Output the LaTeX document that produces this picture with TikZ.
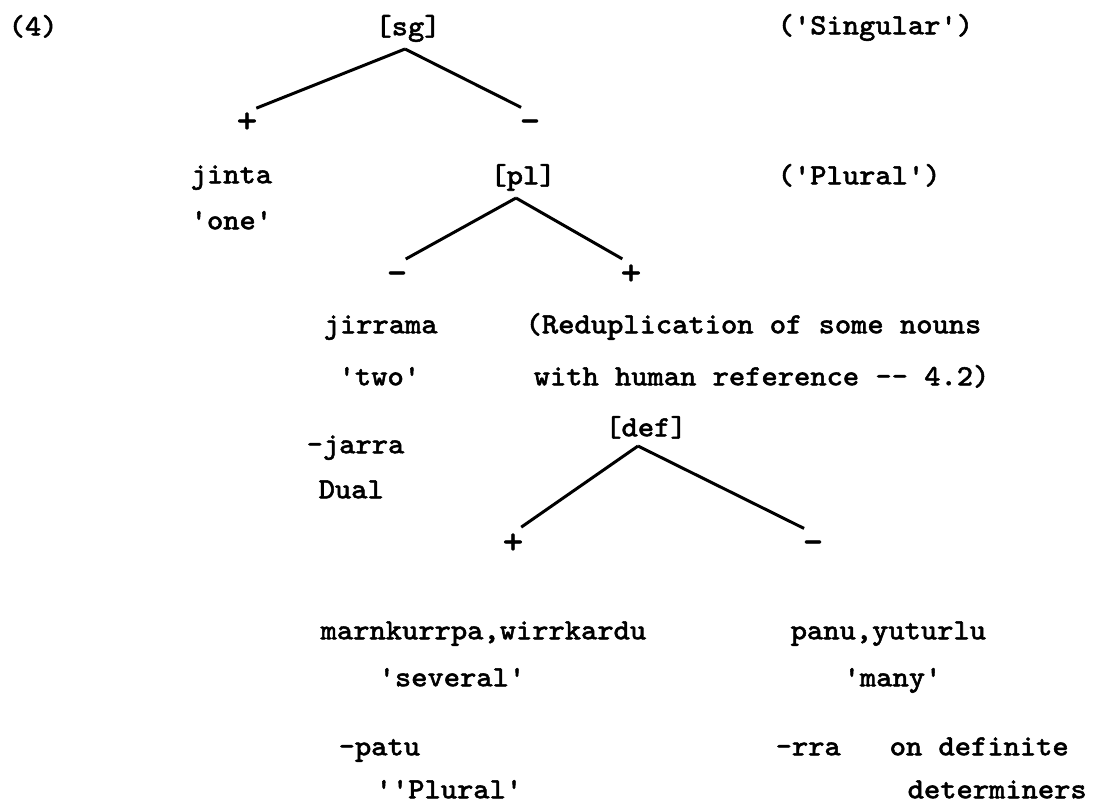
\documentclass[tikz,border=0pt]{standalone}
\usepackage{fontspec}
\setmonofont[FakeStretch=1.05, FakeBold=1.8]{Latin Modern Mono}
\begin{document}
\begin{tikzpicture}[x=0.01cm, y=-0.01cm,
  every node/.style={font=\ttfamily\fontsize{8.3}{10}\selectfont, inner sep=0pt, text height=5.6pt, text depth=0.9pt},
  word/.style={anchor=west},
  feat/.style={anchor=center},
  sign/.style={anchor=center, font=\ttfamily\fontsize{10.5}{12}\selectfont},
  branch/.style={line width=0.85pt, shorten >=0.1cm}]
  \useasboundingbox (0,0) rectangle (1095,806);
  % number and top feature
  \node[word] (num) at (8,27) {(4)};
  \node[feat] (sg) at (408,27) {[sg]};
  \node[word] (singular) at (777,26) {('Singular')};
  \coordinate (sgtop) at (405,49);
  \node[sign] (sgplus) at (247,124) {+};
  \node[sign] (sgminus) at (530,124) {-};
  \draw[branch] (sgtop) -- (sgplus.north);
  \draw[branch] (sgtop) -- (sgminus.north);
  \node[word] (jinta) at (190,175) {jinta};
  \node[word] (one) at (190,221) {'one'};
  % plural
  \node[feat] (pl) at (523,176) {[pl]};
  \node[word] (plural) at (777,176) {('Plural')};
  \coordinate (pltop) at (516,198);
  \node[sign] (plminus) at (397,276) {-};
  \node[sign] (plplus) at (631,276) {+};
  \draw[branch] (pltop) -- (plminus.north);
  \draw[branch] (pltop) -- (plplus.north);
  \node[word] (jirrama) at (323,325) {jirrama};
  \node[word] (two) at (338,377) {'two'};
  \node[word] (jarra) at (306,445) {-jarra};
  \node[word] (dual) at (318,490) {Dual};
  \node[word] (redup) at (525,325) {(Reduplication of some nouns};
  \node[word] (human) at (533,377) {with human reference -- 4.2)};
  % definite
  \node[feat] (def) at (646,428) {[def]};
  \coordinate (deftop) at (638,446);
  \node[sign] (defplus) at (513,545) {+};
  \node[sign] (defminus) at (813,545) {-};
  \draw[branch] (deftop) -- (defplus.north);
  \draw[branch] (deftop) -- (defminus.north);
  \node[word] (marn) at (320,631) {marnkurrpa,wirrkardu};
  \node[word] (several) at (378,678) {'several'};
  \node[word] (patu) at (338,747) {-patu};
  \node[word] (plgloss) at (375,790) {''Plural'};
  \node[word] (panu) at (790,631) {panu,yuturlu};
  \node[word] (many) at (843,678) {'many'};
  \node[word] (rra) at (775,747) {-rra};
  \node[word] (ondef) at (889,747) {on definite};
  \node[word] (determ) at (907,790) {determiners};
\end{tikzpicture}
\end{document}
